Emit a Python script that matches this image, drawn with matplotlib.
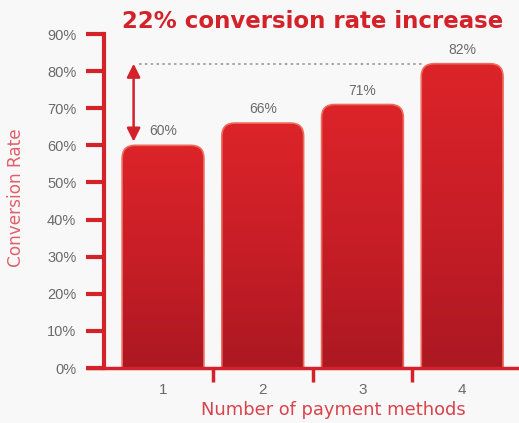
import numpy as np
import matplotlib.pyplot as plt
from matplotlib.patches import FancyBboxPatch
from matplotlib.colors import LinearSegmentedColormap

plt.rcParams["font.family"] = ["Liberation Sans", "DejaVu Sans"]

# data
methods = [1, 2, 3, 4]
rates = [60, 66, 71, 82]
rate_labels = ["60%", "66%", "71%", "82%"]
yticks = list(range(0, 100, 10))

RED = "#d3222a"
GRAY = "#6a6a6a"

fig = plt.figure(figsize=(5.19, 4.23), dpi=100)
fig.patch.set_facecolor("#f9f8f8")
ax = fig.add_axes([104 / 519, 55 / 423, 415 / 519, 334 / 423])
ax.set_facecolor("none")

# bars with gradient and rounded tops
grad = LinearSegmentedColormap.from_list("g", ["#ac1822", "#c81e27", "#dc2429"])
bars = ax.bar(methods, rates, width=0.82, color="none", edgecolor="none")
r = 0.13
aspect = (90 / 334) / (1 / 99.7)
for b in bars:
    x0, w, h = b.get_x(), b.get_width(), b.get_height()
    patch = FancyBboxPatch((x0, -5), w, h + 5,
                           boxstyle=f"round,pad=0,rounding_size={r}",
                           mutation_aspect=aspect, facecolor="none",
                           edgecolor="#ef6a5a", linewidth=1.2, zorder=3)
    ax.add_patch(patch)
    img = ax.imshow(np.linspace(0, 1, 256).reshape(-1, 1), cmap=grad,
                    origin="lower", aspect="auto",
                    extent=[x0, x0 + w, 0, h], zorder=2)
    img.set_clip_path(patch)
ax.set_xlim(0.408, 4.57)
ax.set_ylim(0, 90)

for x, v, lab in zip(methods, rates, rate_labels):
    ax.annotate(lab, xy=(x, v), xytext=(0, 5), textcoords="offset points",
                ha="center", va="bottom", fontsize=10, color=GRAY)

# dotted reference line and double arrow
ax.plot([0.76, 3.6], [rates[-1], rates[-1]], ls=(0, (1.5, 2)), color="#9a9a9a",
        lw=1.2, zorder=1)
ax.annotate("", xy=(0.705, rates[0] + 1), xytext=(0.705, rates[-1]),
            arrowprops=dict(arrowstyle="<|-|>", color=RED, lw=1.8,
                            mutation_scale=20, shrinkA=0, shrinkB=0))

# axes styling
for s in ["top", "right"]:
    ax.spines[s].set_visible(False)
ax.spines["left"].set_color(RED)
ax.spines["left"].set_linewidth(3)
ax.spines["bottom"].set_color(RED)
ax.spines["bottom"].set_linewidth(2.5)
ax.spines["bottom"].set_zorder(5)
ax.spines["bottom"].set_bounds(0.25, 4.57)
ax.spines["bottom"].set_clip_on(False)

ax.set_yticks(yticks)
ax.set_yticklabels([f"{t}%" for t in yticks])
ax.tick_params(axis="y", length=13, width=3, color=RED, labelsize=10.5,
               labelcolor=GRAY, pad=7)
ax.set_xticks([1.5, 2.5, 3.5])
ax.set_xticklabels([])
ax.tick_params(axis="x", length=10, width=2.5, color=RED, direction="out")
for x in methods:
    ax.text(x, -4, str(x), ha="center", va="top", fontsize=11, color=GRAY)

fig.text(16 / 519, (423 - 198) / 423, "Conversion Rate", rotation=90,
         ha="center", va="center", fontsize=12.2, color="#e0606a",
         family="DejaVu Sans")
fig.text(333 / 519, 13 / 423, "Number of payment methods",
         ha="center", va="center", fontsize=12.9, color="#d8434c",
         family="DejaVu Sans")
fig.text(313 / 519, (423 - 21) / 423, "22% conversion rate increase",
         ha="center", va="center", fontsize=16.5, fontweight="bold", color=RED,
         family="DejaVu Sans")

fig.savefig("out.png", dpi=100, facecolor=fig.get_facecolor())
